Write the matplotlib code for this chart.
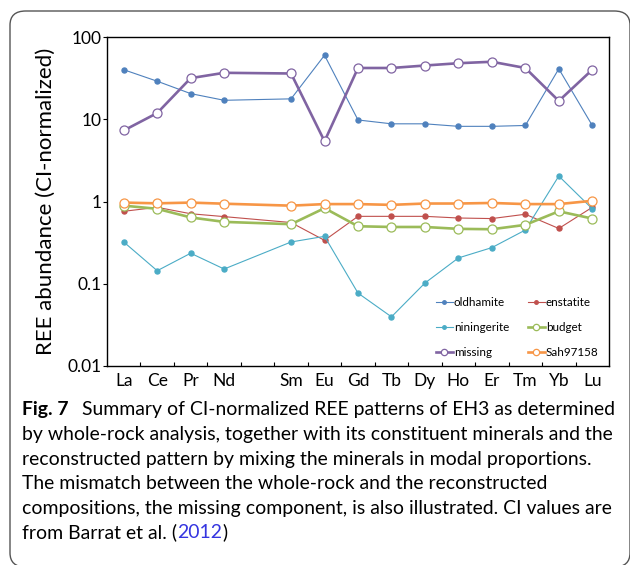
import matplotlib
matplotlib.use('Agg')
import matplotlib.pyplot as plt
from matplotlib.patches import FancyBboxPatch
from matplotlib.ticker import FixedLocator, NullLocator
import numpy as np

plt.rcParams['font.family'] = ['Lato', 'DejaVu Sans']

# REE, Pm left out (gap between Nd and Sm)
ree = ['La', 'Ce', 'Pr', 'Nd', 'Sm', 'Eu', 'Gd', 'Tb', 'Dy', 'Ho', 'Er', 'Tm', 'Yb', 'Lu']
xpos = [0, 1, 2, 3, 5, 6, 7, 8, 9, 10, 11, 12, 13, 14]

oldhamite   = [40, 29, 20.5, 17, 17.7, 60, 9.8, 8.8, 8.8, 8.2, 8.2, 8.4, 41, 8.4]
enstatite   = [0.76, 0.85, 0.71, 0.655, 0.555, 0.337, 0.66, 0.66, 0.66, 0.63, 0.62, 0.70, 0.47, 0.85]
niningerite = [0.322, 0.144, 0.235, 0.151, 0.322, 0.377, 0.077, 0.0396, 0.102, 0.206, 0.275, 0.45, 2.04, 0.815]
budget      = [0.89, 0.815, 0.64, 0.565, 0.53, 0.83, 0.50, 0.49, 0.49, 0.465, 0.46, 0.52, 0.76, 0.62]
missing     = [7.3, 11.9, 31.6, 36.7, 36, 5.4, 42, 42, 45, 48, 50, 42, 16.7, 40]
sah97158    = [0.97, 0.95, 0.97, 0.94, 0.89, 0.93, 0.93, 0.91, 0.945, 0.945, 0.96, 0.93, 0.93, 1.02]

yticks = [0.01, 0.1, 1, 10, 100]
yticklabels = ['0.01', '0.1', '1', '10', '100']

W, H = 630, 565
fig = plt.figure(figsize=(W/100, H/100), dpi=100)

# rounded frame round the figure + caption
frame = FancyBboxPatch((10/W, 1-567/H), 620/W, 556/H,
                       boxstyle='round,pad=0,rounding_size=0.025',
                       transform=fig.transFigure, fill=False,
                       edgecolor='#555555', linewidth=1.0)
fig.patches.append(frame)

ax = fig.add_axes([107/W, 1-366/H, 502/W, 329/H])

thin = dict(lw=0.8, marker='o', ms=3.6)
thick = dict(lw=1.9, marker='o', ms=6.5, markerfacecolor='white', markeredgewidth=0.9)

l_old, = ax.plot(xpos, oldhamite, color='#4f81bd', label='oldhamite', **thin)
l_ens, = ax.plot(xpos, enstatite, color='#c0504d', label='enstatite', **thin)
l_nin, = ax.plot(xpos, niningerite, color='#4bacc6', label='niningerite', **thin)
l_bud, = ax.plot(xpos, budget, color='#9bbb59', label='budget', **thick)
l_mis, = ax.plot(xpos, missing, color='#8064a2', label='missing', **thick)
l_sah, = ax.plot(xpos, sah97158, color='#f79646', label='Sah97158', **thick)

ax.set_yscale('log')
ax.set_ylim(0.01, 100)
ax.set_xlim(-0.5, 14.5)
ax.yaxis.set_major_locator(FixedLocator(yticks))
ax.yaxis.set_minor_locator(NullLocator())
ax.set_yticklabels(yticklabels)
ax.tick_params(axis='y', which='major', direction='out', length=3, width=0.8,
               labelsize=12.5, pad=1)

ax.set_xticks(xpos)
ax.set_xticklabels(ree)
ax.set_xticks(np.arange(0.5, 14, 1), minor=True)
ax.tick_params(axis='x', which='major', length=0, labelsize=12.5, pad=5)
ax.tick_params(axis='x', which='minor', direction='in', length=3, width=0.8)

for s in ax.spines.values():
    s.set_linewidth(1.0)

ax.set_ylabel('REE abundance (CI-normalized)', fontsize=16)
ax.yaxis.set_label_coords(-0.102, 0.5)

handles = [l_old, l_nin, l_mis, l_ens, l_bud, l_sah]
ax.legend(handles=handles, ncol=2, loc='lower right', bbox_to_anchor=(1.0, -0.008),
          frameon=False, fontsize=8.4, handlelength=1.45, handletextpad=0.1,
          columnspacing=1.6, labelspacing=1.2, markerscale=0.7)

# caption
lines = [
    'Summary of CI-normalized REE patterns of EH3 as determined',
    'by whole-rock analysis, together with its constituent minerals and the',
    'reconstructed pattern by mixing the minerals in modal proportions.',
    'The mismatch between the whole-rock and the reconstructed',
    'compositions, the missing component, is also illustrated. CI values are',
]
baselines = [415, 440, 464.5, 489, 514, 538.5]
cap_fs = 13.3
left = 22
renderer = fig.canvas.get_renderer()

# fit font size so line 2 spans the text width
probe = fig.text(0, 0, lines[1], fontsize=cap_fs)
wpx = probe.get_window_extent(renderer).width
probe.remove()
cap_fs = cap_fs * 590 / wpx

def ftext(x, y, s, **kw):
    return fig.text(x/W, 1-y/H, s, va='baseline', ha='left', fontsize=cap_fs, **kw)

t = ftext(left, baselines[0], 'Fig. 7', fontweight='bold')
ftext(t.get_window_extent(renderer).x1 + 14, baselines[0], lines[0])
for s, b in zip(lines[1:], baselines[1:5]):
    ftext(left, b, s)
t1 = ftext(left, baselines[5], 'from Barrat et al. (')
x1 = t1.get_window_extent(renderer).x1
t2 = ftext(x1, baselines[5], '2012', color='#3535e0')
x2 = t2.get_window_extent(renderer).x1
ftext(x2, baselines[5], ')')

fig.savefig('out.png', dpi=100)
